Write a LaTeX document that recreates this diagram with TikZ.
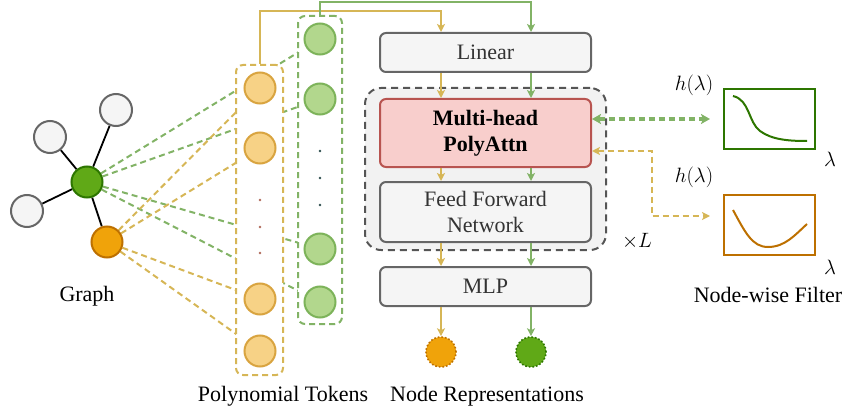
\documentclass[tikz,border=0pt]{standalone}
\usepackage{fontspec}
\setmainfont{Liberation Serif}
\usetikzlibrary{arrows.meta,calc}
\definecolor{ylw}{HTML}{D6B656}
\definecolor{grn}{HTML}{82B366}
\definecolor{ytokfill}{HTML}{F7D286}
\definecolor{ytokdraw}{HTML}{D9A440}
\definecolor{gtokfill}{HTML}{B2D78D}
\definecolor{gtokdraw}{HTML}{7DB35A}
\definecolor{grayline}{HTML}{666666}
\definecolor{grayfill}{HTML}{F5F5F5}
\definecolor{groupfill}{HTML}{F2F2F2}
\definecolor{groupline}{HTML}{555555}
\definecolor{attnfill}{HTML}{F8CECC}
\definecolor{attndraw}{HTML}{B85450}
\definecolor{dkgreen}{HTML}{2D7600}
\definecolor{ltgreen}{HTML}{60A917}
\definecolor{orng}{HTML}{F0A30A}
\definecolor{dkorng}{HTML}{BD7000}
\definecolor{txtgray}{HTML}{333333}
\definecolor{ydot}{HTML}{B06A5A}
\definecolor{gdot}{HTML}{2F4F4F}
\pgfdeclarelayer{lines}
\pgfdeclarelayer{boxes}
\pgfsetlayers{lines,boxes,main}
\tikzset{
  mytip/.tip={Stealth[length=8pt,width=8pt,inset=2pt]},
  bigtip/.tip={Stealth[length=9pt,width=10pt,inset=2pt]}
}
\begin{document}
\begin{tikzpicture}[x=1pt,y=-1pt,
  font=\fontsize{22}{25}\selectfont,
  graynode/.style={circle,draw=grayline,fill=grayfill,line width=2pt,minimum size=32pt,inner sep=0pt},
  gcenter/.style={circle,draw=dkgreen,fill=ltgreen,line width=2pt,minimum size=31pt,inner sep=0pt},
  ocenter/.style={circle,draw=dkorng,fill=orng,line width=2pt,minimum size=31pt,inner sep=0pt},
  ytok/.style={circle,draw=ytokdraw,fill=ytokfill,line width=2pt,minimum size=31pt,inner sep=0pt},
  gtok/.style={circle,draw=gtokdraw,fill=gtokfill,line width=2pt,minimum size=31pt,inner sep=0pt},
  tokbox/.style={draw,dash pattern=on 6pt off 4pt,line width=2pt,fill=white,rounded corners=7pt,inner sep=0pt},
  stagebox/.style={draw=grayline,fill=grayfill,line width=2pt,rounded corners=6pt,minimum width=211pt,inner sep=0pt,text=txtgray,align=center},
  edge/.style={line width=1.8pt,black},
  ydash/.style={ylw,line width=2pt,dash pattern=on 6pt off 4pt},
  gdash/.style={grn,line width=2pt,dash pattern=on 6pt off 4pt},
  yarr/.style={ylw,line width=2pt,-mytip},
  garr/.style={grn,line width=2pt,-mytip},
  dotty/.style={circle,inner sep=0pt,minimum size=2.6pt},
  outnode/.style={circle,line width=1.6pt,dotted,minimum size=30pt,inner sep=0pt},
  label/.style={text=black,inner sep=0pt}
]
\useasboundingbox (0,0) rectangle (846,417);

% ---------------- graph ----------------
\node[graynode] (n1) at (116,110) {};
\node[graynode] (n2) at (50,137) {};
\node[graynode] (n3) at (27,211) {};
\node[gcenter] (c) at (87,182) {};
\node[ocenter] (o) at (107,242) {};
\begin{pgfonlayer}{lines}
\draw[edge] (c) -- (n1);
\draw[edge] (c) -- (n2);
\draw[edge] (c) -- (n3);
\draw[edge] (c) -- (o);
\end{pgfonlayer}
\node[label] (graphlbl) at (87,296) {Graph};

% ---------------- tokens ----------------
\node[ytok] (y1) at (260,88) {};
\node[ytok] (y2) at (260,148) {};
\node[ytok] (y3) at (260,299) {};
\node[ytok] (y4) at (260,351) {};
\node[gtok] (t1) at (320,39) {};
\node[gtok] (t2) at (320,99) {};
\node[gtok] (t3) at (320,249) {};
\node[gtok] (t4) at (320,302) {};
\node[dotty,fill=ydot] (yd1) at (260,200) {};
\node[dotty,fill=ydot] (yd2) at (260,227) {};
\node[dotty,fill=ydot] (yd3) at (260,253) {};
\node[dotty,fill=gdot] (gd1) at (320,151) {};
\node[dotty,fill=gdot] (gd2) at (320,178) {};
\node[dotty,fill=gdot] (gd3) at (320,205) {};

\begin{pgfonlayer}{boxes}
\node[tokbox,draw=ylw,minimum width=47pt,minimum height=310pt] (ybox) at (259.5,220) {};
\node[tokbox,draw=grn,minimum width=44pt,minimum height=308pt] (gbox) at (320,170) {};
\node[draw=groupline,fill=groupfill,line width=2pt,dash pattern=on 7pt off 5pt,rounded corners=16pt,minimum width=241pt,minimum height=162pt,inner sep=0pt] (group) at (485.5,169) {};
\end{pgfonlayer}

\begin{pgfonlayer}{lines}
\draw[gdash] (c) -- (t1);
\draw[gdash] (c) -- (t2);
\draw[gdash] (c) -- (t3);
\draw[gdash] (c) -- (t4);
\draw[ydash] (o) -- (y1);
\draw[ydash] (o) -- (y2);
\draw[ydash] (o) -- (y3);
\draw[ydash] (o) -- (y4);
\end{pgfonlayer}

\node[label] (polylbl) at (283,396) {Polynomial Tokens};

% ---------------- transformer column ----------------
\node[stagebox,minimum height=39pt] (lin) at (485.5,52.5) {Linear};
\node[stagebox,draw=attndraw,fill=attnfill,minimum height=68pt,text=black,font=\fontsize{22}{26}\selectfont\bfseries] (attn) at (485.5,133) {Multi-head\\PolyAttn};
\node[stagebox,minimum height=60pt,font=\fontsize{22}{26}\selectfont] (ffn) at (485.5,212) {Feed Forward\\Network};
\node[stagebox,minimum height=39pt] (mlp) at (485.5,286.5) {MLP};
\node[outnode,draw=dkorng,fill=orng] (oy) at (441,352) {};
\node[outnode,draw=dkgreen,fill=ltgreen] (og) at (531,352) {};
\node[label] (replbl) at (487,396) {Node Representations};
\node[label] (times) at (637,241) {$\times L$};

% top feeding lines
\draw[yarr] (ybox.north) -- ++(0,-53) -| ([xshift=-44.5pt]lin.north);
\draw[garr] (gbox.north) -- ++(0,-13) -| ([xshift=45.5pt]lin.north);

% column arrows
\foreach \a/\b in {lin/attn,attn/ffn,ffn/mlp}{
  \draw[yarr] ([xshift=-44.5pt]\a.south) -- ([xshift=-44.5pt]\b.north);
  \draw[garr] ([xshift=45.5pt]\a.south) -- ([xshift=45.5pt]\b.north);
}
\draw[yarr] ([xshift=-44.5pt]mlp.south) -- (oy);
\draw[garr] ([xshift=45.5pt]mlp.south) -- (og);

% ---------------- filters ----------------
\node[draw=dkgreen,line width=2.2pt,minimum width=91pt,minimum height=60pt,inner sep=0pt] (fg) at (769.5,119) {};
\node[draw=dkorng,line width=2.2pt,minimum width=91pt,minimum height=60pt,inner sep=0pt] (fo) at (769.5,225) {};
\draw[dkgreen,line width=2pt] (733,96) .. controls (750,100) and (748,122) .. (760,131) .. controls (772,140) and (790,141) .. (807,141);
\draw[dkorng,line width=2pt] (733,210) .. controls (745,232) and (752,247) .. (768,247) .. controls (785,247) and (795,235) .. (807,224);
\node[label] (h1) at (694,85) {$h(\lambda)$};
\node[label] (h2) at (694,177) {$h(\lambda)$};
\node[label] (l1) at (830,159) {$\lambda$};
\node[label] (l2) at (830,267) {$\lambda$};
\node[label] (filtlbl) at (768,295) {Node-wise Filter};

\coordinate (gtip) at (710,119);
\coordinate (ytip) at (710,216);
\draw[grn,line width=3.2pt,dash pattern=on 6pt off 4pt,bigtip-bigtip] ([yshift=14pt]attn.east) -- (gtip);
\draw[ylw,line width=2pt,dash pattern=on 6pt off 4pt,mytip-mytip] ([yshift=-18pt]attn.east) -- ++(60,0) |- (ytip);
\end{tikzpicture}
\end{document}
